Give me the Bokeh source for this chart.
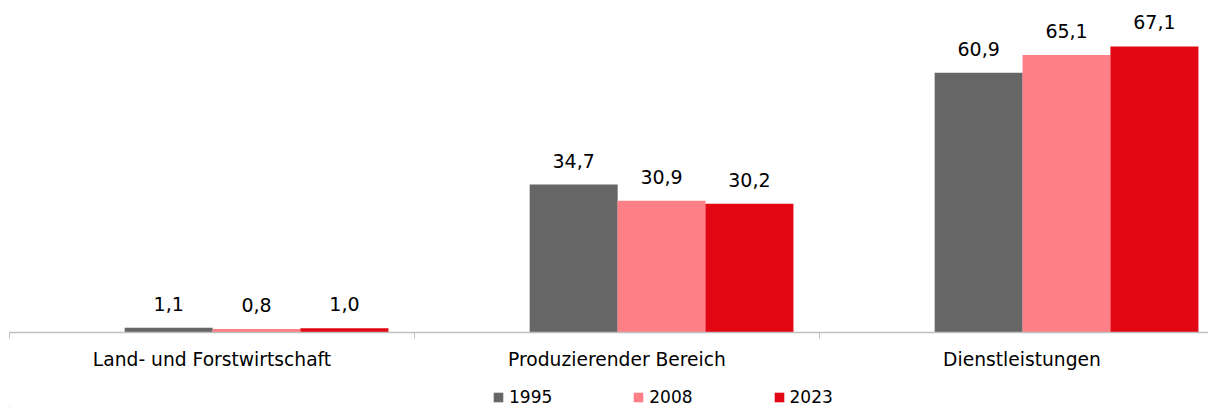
from bokeh.plotting import figure
from bokeh.models import ColumnDataSource, Range1d, FixedTicker, Legend, LegendItem
from bokeh.layouts import column
from bokeh.core.properties import value
from bokeh.embed import file_html
from bokeh.resources import INLINE

categories = ["Land- und Forstwirtschaft", "Produzierender Bereich", "Dienstleistungen"]
years = ["1995", "2008", "2023"]
v1995 = [1.1, 34.7, 60.9]
v2008 = [0.8, 30.9, 65.1]
v2023 = [1.0, 30.2, 67.1]
series = [v1995, v2008, v2023]
colors = ["#666666", "#FF7F86", "#E30613"]

FONT = "DejaVu Sans"
offsets = [0.393, 0.610, 0.827]
bar_w = 0.2173

# ---- main chart ----
p = figure(width=1208, height=372, output_backend="svg", toolbar_location=None,
           x_range=Range1d(0, 1199 / 405), y_range=Range1d(0, 76.0),
           min_border_left=9, min_border_right=0, min_border_top=8, min_border_bottom=40)
p.outline_line_color = None
p.xgrid.visible = False
p.ygrid.visible = False
p.yaxis.visible = False
p.background_fill_color = "white"
p.border_fill_color = "white"

for vals, off, col in zip(series, offsets, colors):
    src = ColumnDataSource(dict(
        x=[i + off for i in range(len(categories))],
        top=vals,
        lab=[f"{v:.1f}".replace(".", ",") for v in vals],
    ))
    p.vbar(x="x", top="top", width=bar_w, bottom=0, source=src, fill_color=col, line_color=None)
    p.text(x="x", y="top", text="lab", source=src, text_align="center", text_baseline="alphabetic",
           y_offset=-24, text_font=value(FONT), text_font_size="19px", text_color="#000000")

ax = p.xaxis[0]
ax.ticker = FixedTicker(ticks=[i + 0.5 for i in range(len(categories))],
                        minor_ticks=list(range(len(categories) + 1)))
ax.major_label_overrides = {i + 0.5: c for i, c in enumerate(categories)}
ax.major_tick_line_color = None
ax.major_tick_out = 0
ax.major_tick_in = 0
ax.minor_tick_out = 6
ax.minor_tick_in = 0
ax.minor_tick_line_color = "#BFBFBF"
ax.axis_line_color = "#BFBFBF"
ax.axis_line_width = 1.5
ax.major_label_standoff = 10
ax.major_label_text_font = FONT
ax.major_label_text_font_size = "18.7px"
ax.major_label_text_color = "#000000"

# ---- legend strip (its helper glyphs lie outside the visible range) ----
pl = figure(width=1208, height=35, output_backend="svg", toolbar_location=None,
            x_range=Range1d(0, 1208), y_range=Range1d(0, 35),
            min_border_left=0, min_border_right=0, min_border_top=0, min_border_bottom=0)
pl.axis.visible = False
pl.grid.visible = False
pl.outline_line_color = None
pl.background_fill_color = "white"
pl.border_fill_color = "white"
leg_renderers = [pl.vbar(x=[-1000], top=[1], width=1, fill_color=c, line_color=None) for c in colors]
legend = Legend(items=[LegendItem(label=y, renderers=[r]) for y, r in zip(years, leg_renderers)],
                orientation="horizontal", location=(483, 0),
                glyph_width=12, glyph_height=12, label_standoff=5, spacing=80,
                padding=0, margin=0, border_line_color=None, background_fill_alpha=0,
                label_text_font=FONT, label_text_font_size="17px", label_text_color="#000000")
pl.add_layout(legend, "center")

layout = column(p, pl, spacing=0)
open("out.html", "w").write(file_html(layout, INLINE))
